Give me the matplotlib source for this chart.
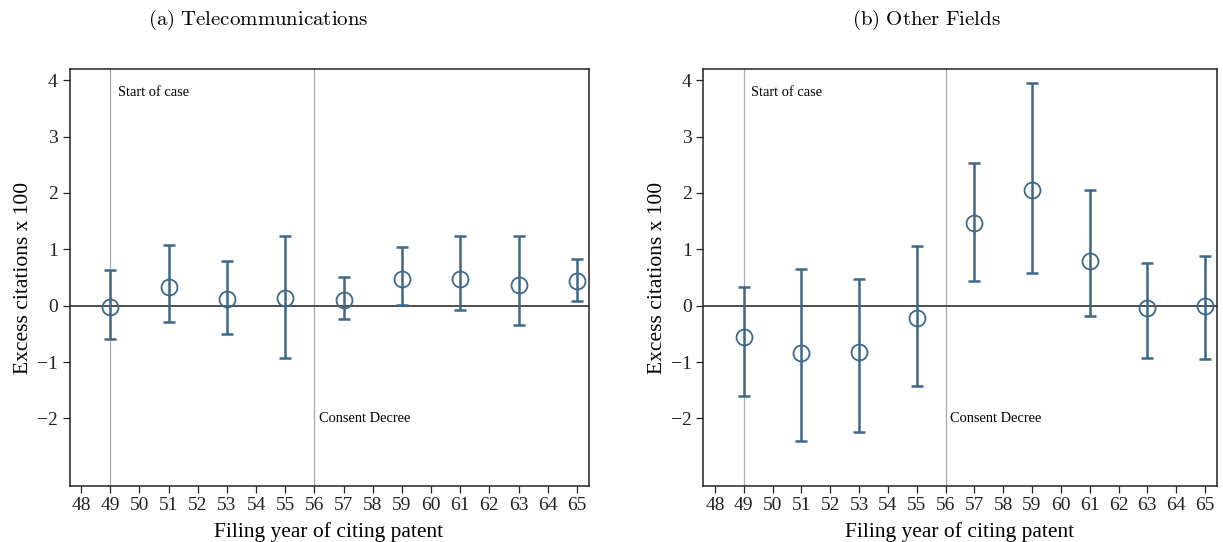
import matplotlib
matplotlib.use("Agg")
import matplotlib.pyplot as plt
import numpy as np

years = [49, 51, 53, 55, 57, 59, 61, 63, 65]

telecom_est = [-0.02, 0.33, 0.11, 0.13, 0.095, 0.47, 0.48, 0.37, 0.43]
telecom_hi = [0.63, 1.08, 0.80, 1.24, 0.51, 1.05, 1.23, 1.24, 0.83]
telecom_lo = [-0.59, -0.29, -0.50, -0.93, -0.24, 0.01, -0.08, -0.34, 0.08]

other_est = [-0.55, -0.84, -0.83, -0.22, 1.47, 2.05, 0.79, -0.04, 0.00]
other_hi = [0.34, 0.645, 0.47, 1.065, 2.54, 3.96, 2.06, 0.76, 0.89]
other_lo = [-1.60, -2.40, -2.25, -1.43, 0.43, 0.58, -0.18, -0.93, -0.95]

titles = ["(a) Telecommunications", "(b) Other Fields"]
xticks = list(range(48, 66))
yticks = [-2, -1, 0, 1, 2, 3, 4]

plt.rcParams['font.family'] = ['Liberation Serif', 'DejaVu Serif']
plt.rcParams['mathtext.fontset'] = 'cm'

col = '#3e6886'
W, H = 1223, 542
fig = plt.figure(figsize=(W / 100, H / 100), dpi=100)

def px_axes(l, r, t, b):
    return fig.add_axes([l / W, 1 - b / H, (r - l) / W, (b - t) / H])

axes = [px_axes(69.5, 588.5, 69, 486), px_axes(703.5, 1216.5, 69, 486)]
data = [(telecom_est, telecom_lo, telecom_hi), (other_est, other_lo, other_hi)]
title_x = [258, 926]

for ax, (est, lo, hi), ttl, tx in zip(axes, data, titles, title_x):
    est = np.array(est); lo = np.array(lo); hi = np.array(hi)
    ax.axvline(49, color='#a8a8a8', lw=0.9, zorder=1)
    ax.axvline(56, color='#a8a8a8', lw=0.9, zorder=1)
    ax.axhline(0, color='#404040', lw=1.3, zorder=2)
    ax.errorbar(years, est, yerr=[est - lo, hi - est], fmt='none', ecolor=col,
                elinewidth=1.8, capsize=4, capthick=1.8, zorder=3)
    ax.plot(years, est, 'o', mfc='none', mec=col, ms=11.5, mew=1.3, zorder=4)
    ax.set_xlim(47.6, 65.4)
    ax.set_ylim(-3.2, 4.2)
    ax.set_xticks(xticks)
    ax.set_yticks(yticks)
    ax.set_yticklabels(['\u2212' + str(-v) if v < 0 else str(v) for v in yticks])
    ax.tick_params(axis='both', labelsize=14, length=5, width=0.9, direction='out', colors='#222222')
    ax.tick_params(axis='x', pad=3)
    for s in ax.spines.values():
        s.set_linewidth(1.1)
        s.set_color('#222222')
    ax.set_xlabel('Filing year of citing patent', fontsize=15.5, labelpad=6)
    ax.set_ylabel('Excess citations x 100', fontsize=15.5, labelpad=3)
    ax.text(49.26, 3.79, 'Start of case', fontsize=10.4, va='center', ha='left')
    ax.text(56.15, -2.0, 'Consent Decree', fontsize=10.4, va='center', ha='left')
    fig.text(tx / W, 1 - 20 / H, r'$\mathrm{' + ttl.replace(' ', r'\ ') + '}$',
             fontsize=15, ha='center', va='center')

fig.savefig('out.png', dpi=100, facecolor='white')
